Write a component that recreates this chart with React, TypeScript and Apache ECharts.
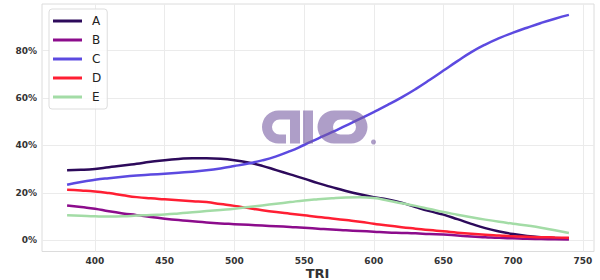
import React, { useEffect, useRef } from "react";
import * as echarts from "echarts";

const xValues = [
  380, 390, 400, 410, 420, 430, 440, 450, 460, 470, 480, 490, 500, 510, 520, 530, 540, 550, 560,
  570, 580, 590, 600, 610, 620, 630, 640, 650, 660, 670, 680, 690, 700, 710, 720, 730, 740,
];
const seriesA = [
  29.5, 29.7, 30.1, 30.8, 31.5, 32.3, 33.1, 33.8, 34.3, 34.6, 34.6, 34.4, 33.8, 32.8, 31.4, 29.6,
  27.8, 26.0, 24.1, 22.4, 20.8, 19.4, 18.2, 17.2, 15.8, 14.0, 12.3, 10.8, 8.9, 6.9, 5.1, 3.7, 2.6,
  1.8, 1.3, 1.0, 0.8,
];
const seriesB = [
  14.7, 14.0, 13.3, 12.2, 11.3, 10.6, 9.8, 9.1, 8.5, 8.0, 7.5, 7.1, 6.8, 6.5, 6.2, 5.9, 5.6, 5.3,
  4.9, 4.5, 4.2, 3.9, 3.6, 3.3, 3.1, 2.9, 2.6, 2.4, 2.0, 1.6, 1.3, 1.0, 0.8, 0.6, 0.5, 0.4, 0.3,
];
const seriesC = [
  23.4, 24.6, 25.5, 26.2, 26.8, 27.3, 27.7, 28.1, 28.5, 28.9, 29.5, 30.3, 31.3, 32.4, 33.7, 35.4,
  37.6, 40.2, 42.9, 45.6, 48.4, 51.2, 54.1, 57.1, 60.3, 63.8, 67.6, 71.6, 75.6, 79.4, 82.6, 85.3,
  87.6, 89.7, 91.7, 93.5, 95.1,
];
const seriesD = [
  21.3, 21.0, 20.6, 19.9, 19.0, 18.2, 17.7, 17.3, 16.9, 16.5, 16.1, 15.3, 14.5, 13.6, 12.7, 11.9,
  11.2, 10.5, 9.8, 9.2, 8.5, 7.8, 7.0, 6.2, 5.5, 4.9, 4.3, 3.8, 3.2, 2.7, 2.3, 2.0, 1.7, 1.5, 1.3,
  1.2, 1.1,
];
const seriesE = [
  10.5, 10.3, 10.1, 10.0, 10.1, 10.4, 10.7, 10.9, 11.3, 11.8, 12.3, 12.8, 13.3, 14.0, 14.7, 15.4,
  16.1, 16.8, 17.3, 17.7, 18.0, 18.1, 17.8, 16.8, 15.6, 14.5, 13.2, 11.9, 10.8, 9.7, 8.7, 7.8, 7.0,
  6.2, 5.3, 4.2, 3.1,
];
const seriesNames = ["A", "B", "C", "D", "E"];
const seriesValues = [seriesA, seriesB, seriesC, seriesD, seriesE];
const xTicks = [400, 450, 500, 550, 600, 650, 700, 750];
const yTicks = [0, 20, 40, 60, 80];
const xAxisTitle = "TRI";

const COLORS = ["#2d0a5b", "#8c0c8c", "#5c4ae0", "#ff1f33", "#a3dca6"];
const FONT = "DejaVu Sans";
const LOGO_PATH =
  "M16.5 0 L38 0 L38 33 L28 33 L28 9 L17.5 9 A7.5 7.5 0 0 0 17.5 24 L24 24 L24 33 L16.5 33 A16.5 16.5 0 0 1 16.5 0 Z " +
  "M41 0 L51 0 L51 33 L41 33 Z " +
  "M72 0 L89 0 A16.5 16.5 0 0 1 89 33 L72 33 A16.5 16.5 0 0 1 72 0 Z " +
  "M78.5 9 A7.5 7.5 0 0 0 78.5 24 L86.5 24 A7.5 7.5 0 0 0 86.5 9 Z";

let registered = false;

export default function App() {
  const ref = useRef<HTMLDivElement>(null);
  useEffect(() => {
    if (!ref.current) return;
    if (!registered) {
      echarts.graphic.registerShape("logo", echarts.graphic.extendPath(LOGO_PATH, {}));
      registered = true;
    }
    const chart = echarts.init(ref.current, undefined, { renderer: "svg" });
    const logoFill = "rgba(115,88,160,0.58)";
    chart.setOption({
      animation: false,
      backgroundColor: "#ffffff",
      grid: {
        left: 42,
        right: 6,
        top: 4,
        bottom: 28.5,
        outerBoundsMode: "none",
        show: true,
        borderColor: "#dcdcdc",
        borderWidth: 1,
        backgroundColor: "#ffffff",
      },
      legend: {
        orient: "vertical",
        left: 49,
        top: 9,
        padding: [6, 6, 6, 4],
        itemGap: 7,
        itemWidth: 29,
        itemHeight: 3,
        icon: "rect",
        backgroundColor: "rgba(255,255,255,0.85)",
        borderColor: "#dddddd",
        borderWidth: 1,
        borderRadius: 3,
        textStyle: {
          fontFamily: FONT,
          fontSize: 12,
          color: "#222",
          padding: [0, 0, 0, 5],
        },
        data: seriesNames,
      },
      xAxis: {
        type: "value",
        min: 362,
        max: 758,
        axisLine: { show: false },
        axisTick: { show: false, customValues: xTicks },
        axisLabel: {
          customValues: xTicks,
          margin: 5,
          fontFamily: FONT,
          fontWeight: "bold",
          fontSize: 9,
          color: "#333",
        },
        splitLine: { show: true, lineStyle: { color: "#ebebeb", width: 1 } },
      },
      yAxis: {
        type: "value",
        min: -4.75,
        max: 99.7,
        axisLine: { show: false },
        axisTick: { show: false, customValues: yTicks },
        axisLabel: {
          customValues: yTicks,
          margin: 5,
          formatter: (v: number) => `${Math.round(v)}%`,
          fontFamily: FONT,
          fontWeight: "bold",
          fontSize: 9,
          color: "#333",
        },
        splitLine: { show: true, lineStyle: { color: "#ebebeb", width: 1 } },
      },
      series: seriesNames.map((name, i) => ({
        name,
        type: "line",
        data: xValues.map((x, j) => [x, seriesValues[i][j]]),
        smooth: 0.5,
        showSymbol: false,
        symbol: "none",
        color: COLORS[i],
        lineStyle: { width: 2.5, color: COLORS[i] },
        z: 2 + i,
      })),
      graphic: [
        {
          type: "text",
          x: 317.5,
          y: 273,
          style: {
            text: xAxisTitle,
            fontFamily: FONT,
            fontWeight: "bold",
            fontSize: 13,
            fill: "#333",
            align: "center",
            verticalAlign: "middle",
          },
        },
        {
          type: "logo",
          x: 262,
          y: 110.5,
          z: 100,
          style: { fill: logoFill },
        },
        {
          type: "circle",
          z: 100,
          shape: { cx: 373.5, cy: 142, r: 2.5 },
          style: { fill: logoFill },
        },
      ],
    });
    return () => chart.dispose();
  }, []);
  return (
    <div
      ref={ref}
      style={{ position: "absolute", left: 0, top: 0, width: 600, height: 280 }}
    />
  );
}
